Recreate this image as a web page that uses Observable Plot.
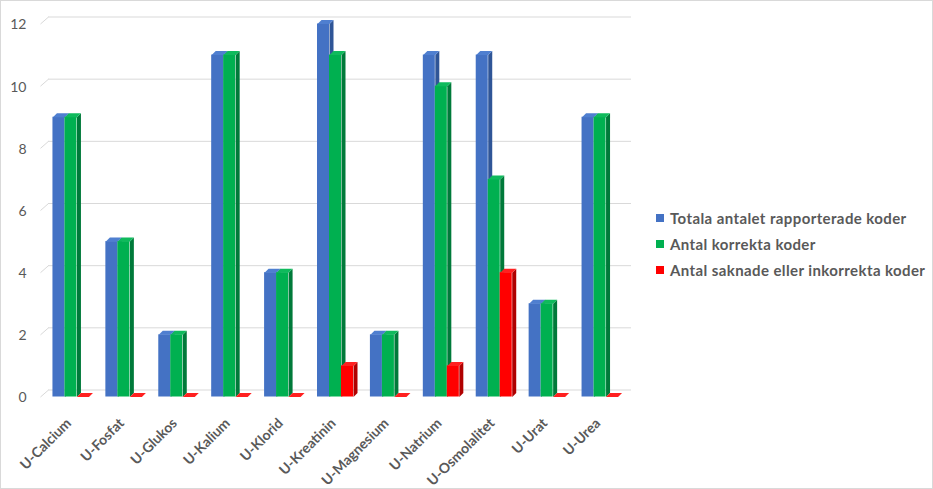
<!DOCTYPE html>
<html><head><meta charset="utf-8">
<script src="https://cdn.jsdelivr.net/npm/d3@7"></script>
<script src="https://cdn.jsdelivr.net/npm/@observablehq/plot@0.6"></script>
<style>
body{margin:0;background:#fff;}
#wrap{position:relative;width:933px;height:489px;overflow:hidden;font-family:Lato,"Open Sans",sans-serif;background:#fff;}
#frame{position:absolute;left:0;top:0;width:931px;height:487px;border:1px solid #d9d9d9;pointer-events:none;}
#chart{position:absolute;left:0;top:0;}
#legend{position:absolute;left:656px;top:205px;color:#595959;font-weight:bold;font-size:15px;letter-spacing:0.4px;}
.item{height:26px;display:flex;align-items:center;white-space:nowrap;}
.sw{width:8px;height:8px;margin-right:6px;flex:none;}
</style></head><body>
<div id="wrap"><div id="chart"></div><div id="legend"></div><div id="frame"></div></div>
<script>
const categories = ["U-Calcium","U-Fosfat","U-Glukos","U-Kalium","U-Klorid","U-Kreatinin","U-Magnesium","U-Natrium","U-Osmolalitet","U-Urat","U-Urea"];
const totalCodes = [9,5,2,11,4,12,2,11,11,3,9];
const correctCodes = [9,5,2,11,4,11,2,10,7,3,9];
const missingCodes = [0,0,0,0,0,1,0,1,4,0,0];
const seriesNames = ["Totala antalet rapporterade koder","Antal korrekta koder","Antal saknade eller inkorrekta koder"];
const yTicks = [0,2,4,6,8,10,12];

const seriesValues = [totalCodes, correctCodes, missingCodes];
const frontColors = ["#4472C4","#00B050","#FF0000"];
const sideColors = ["#2F5597","#007A3A","#B00000"];
const topColors = ["#4F7FD0","#0FBA5C","#FF2020"];

const W = 640, H = 489, mL = 44, mR = 14, mT = 23.5, mB = 92.5;
const pxX = (W - mL - mR) / 11, pxY = (H - mT - mB) / 12;
const bw = 12 / pxX, ddx = 4 / pxX, ddy = 4 / pxY;
const gx = 4 / pxX, gy = 7 / pxY;
const gridRight = (631 - mL) / pxX - 0.5;

const marks = [
  Plot.ruleY(yTicks, {y: d => d + gy, x1: -0.5 + gx, x2: gridRight, stroke: "#d9d9d9", strokeWidth: 1}),
  Plot.link(yTicks, {x1: -0.5 - gx, y1: d => d, x2: -0.5 + gx, y2: d => d + gy, stroke: "#d9d9d9", strokeWidth: 1}),
  Plot.text(yTicks, {x: -0.5, y: d => d, dx: -18, dy: 1, textAnchor: "end", fontSize: 14, fill: "#595959", text: d => String(d)})
];

seriesValues.forEach((vals, k) => {
  const bars = vals.map((v, i) => {
    const x1 = i + (k - 1.5) * bw, x2 = x1 + bw;
    return {i, v, x1, x2};
  });
  const side = [], top = [];
  bars.forEach(b => {
    side.push({z: b.i, x: b.x2, y: 0}, {z: b.i, x: b.x2 + ddx, y: ddy}, {z: b.i, x: b.x2 + ddx, y: b.v + ddy}, {z: b.i, x: b.x2, y: b.v});
    top.push({z: b.i, x: b.x1, y: b.v}, {z: b.i, x: b.x1 + ddx, y: b.v + ddy}, {z: b.i, x: b.x2 + ddx, y: b.v + ddy}, {z: b.i, x: b.x2, y: b.v});
  });
  marks.push(Plot.rect(bars, {x1: "x1", x2: "x2", y1: 0, y2: "v", fill: frontColors[k]}));
  marks.push(Plot.line(side, {x: "x", y: "y", z: "z", fill: sideColors[k], stroke: "none"}));
  marks.push(Plot.line(top, {x: "x", y: "y", z: "z", fill: topColors[k], stroke: "none"}));
});

marks.push(Plot.text(categories, {x: (d, i) => i, y: 0, dx: -2, dy: 24, rotate: -45, textAnchor: "end", fontSize: 14, fontWeight: "bold", fill: "#595959", text: d => d}));

const chart = Plot.plot({
  width: W, height: H,
  marginLeft: mL, marginRight: mR, marginTop: mT, marginBottom: mB,
  x: {domain: [-0.5, 10.5], axis: null},
  y: {domain: [0, 12], axis: null},
  style: {fontFamily: "Lato, 'Open Sans', sans-serif", background: "transparent", overflow: "visible"},
  marks
});
document.getElementById("chart").appendChild(chart);

const legend = document.getElementById("legend");
seriesNames.forEach((name, k) => {
  const item = document.createElement("div");
  item.className = "item";
  const sw = document.createElement("span");
  sw.className = "sw";
  sw.style.background = frontColors[k];
  const t = document.createElement("span");
  t.textContent = name;
  item.appendChild(sw); item.appendChild(t);
  legend.appendChild(item);
});
</script>
</body></html>
